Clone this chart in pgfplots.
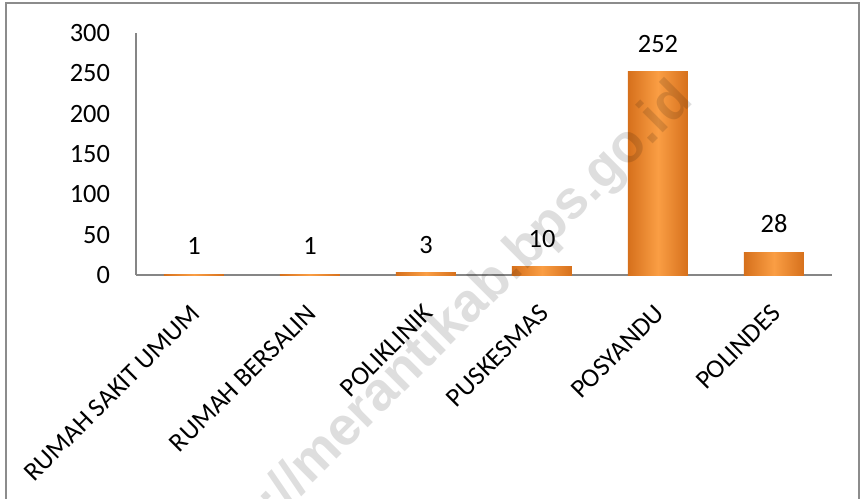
\documentclass[border=0pt]{standalone}
\usepackage{pgfplots}
\pgfplotsset{compat=1.18}
\usepackage{fontspec}
\setmainfont{Carlito}
\newfontfamily\wmfont{Liberation Sans}

\definecolor{axisgray}{RGB}{134,134,134}
\definecolor{framegray}{RGB}{140,140,140}
\definecolor{baredge}{RGB}{214,112,28}
\definecolor{barmid}{RGB}{250,158,68}

\begin{document}
\begin{tikzpicture}
\useasboundingbox (-68pt,-111.5pt) rectangle (362pt,137.5pt);
\draw[framegray, line width=0.9pt] (-65pt,-115pt) -- (-65pt,136pt) -- (361.5pt,136pt) -- (361.5pt,-115pt);

\begin{axis}[
  at={(0pt,0pt)}, anchor=south west,
  scale only axis,
  width=348pt, height=121pt,
  ybar, bar width=30pt, bar shift=0pt,
  xmin=-0.5, xmax=5.5,
  ymin=0, ymax=300,
  ytick={0,50,100,150,200,250,300},
  xtick={0,1,2,3,4,5},
  xticklabels={RUMAH SAKIT UMUM,RUMAH BERSALIN,POLIKLINIK,PUSKESMAS,POSYANDU,POLINDES},
  axis lines*=left,
  axis line style={axisgray, line width=0.8pt},
  major tick length=0pt,
  tick style={draw=none},
  font=\fontsize{13.2}{15}\selectfont,
  /pgf/number format/assume math mode=true,
  yticklabel style={anchor=east, xshift=-9.5pt},
  xticklabel style={anchor=east, inner sep=0pt, xshift=1pt, yshift=-17pt, rotate=45},
  nodes near coords,
  every node near coord/.append style={anchor=south, inner sep=0pt, yshift=9.5pt, black},
  clip=false,
  orangebar/.style={draw=none, left color=baredge, right color=baredge, middle color=barmid},
]
\addplot[orangebar] coordinates {(0,1)};
\addplot[orangebar] coordinates {(1,1)};
\addplot[orangebar] coordinates {(2,3)};
\addplot[orangebar] coordinates {(3,10)};
\addplot[orangebar] coordinates {(4,252)};
\addplot[orangebar] coordinates {(5,28)};
\end{axis}

\node[rotate=45, text=black, opacity=0.13, font=\wmfont\bfseries\fontsize{27}{30}\selectfont]
  at (152pt,-31pt) {http://merantikab.bps.go.id};
\end{tikzpicture}
\end{document}
